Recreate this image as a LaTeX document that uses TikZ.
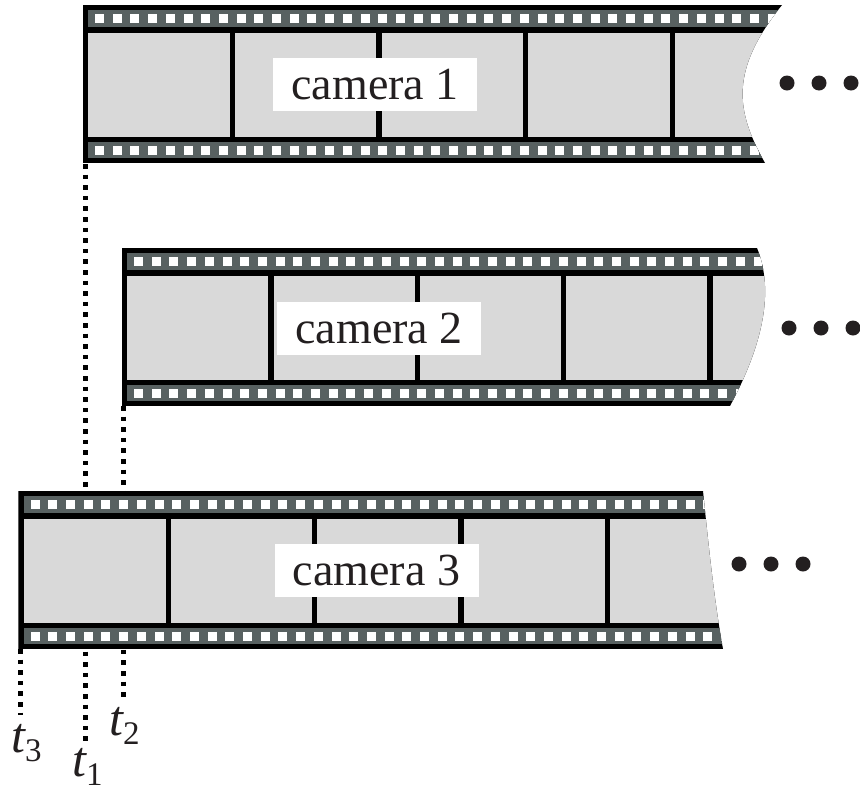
\documentclass[tikz,border=0pt]{standalone}
\usepackage{fontspec}
\setmainfont{Liberation Serif}
\definecolor{stripgray}{RGB}{88,97,97}
\definecolor{framegray}{RGB}{217,217,217}
\definecolor{ink}{RGB}{35,31,32}

% #1 left x, #2 top y, #3 right cut (top-right to bottom-right), #4 frame dividers
\newcommand{\drawfilm}[4]{%
  \begin{scope}
    \clip (#1,#2) -- #3 -- (#1,#2+158) -- cycle;
    \fill[black] (#1,#2) rectangle (860,#2+158);
    \fill[stripgray] (#1+5.5,#2+5) rectangle (860,#2+22);
    \fill[stripgray] (#1+5.5,#2+137) rectangle (860,#2+153);
    \fill[framegray] (#1+5.5,#2+28) rectangle (860,#2+132);
    \foreach \d in {#4} {\fill[black] (\d-2.7,#2+28) rectangle (\d+2.7,#2+132);}
    \foreach \k in {0,...,42} {
      \fill[white] (#1+12.3+17.7*\k,#2+8.8) rectangle +(9,9);
      \fill[white] (#1+12.3+17.7*\k,#2+140.8) rectangle +(9,9);
    }
  \end{scope}}

\tikzset{
  camlabel/.style={fill=white, inner sep=0pt, minimum width=204pt, minimum height=53pt,
    text=ink, font=\fontsize{46}{46}\selectfont},
  more/.style={circle, fill=ink, inner sep=0pt, minimum size=15pt},
  timeline/.style={line width=5pt, dash pattern=on 4.6pt off 6pt, black},
  tlabel/.style={anchor=base west, inner sep=0pt, text=ink, font=\fontsize{50}{50}\selectfont\itshape},
}

\newcommand{\tsub}[1]{\raisebox{-9pt}{\upshape\fontsize{33}{33}\selectfont #1}}

\begin{document}
\begin{tikzpicture}[x=1pt, y=-1pt]
  \useasboundingbox (0,0) rectangle (860,793);

  % time marks, running behind the third strip
  \coordinate (c1top) at (85,164);
  \coordinate (c1end) at (85,745);
  \coordinate (c2top) at (123.5,406);
  \coordinate (c2end) at (123.5,701);
  \coordinate (c3top) at (20.6,649);
  \coordinate (c3end) at (20.6,715);
  \draw[timeline] (c1top) -- (c1end);
  \draw[timeline] (c2top) -- (c2end);
  \draw[timeline] (c3top) -- (c3end);

  % film strips
  \drawfilm{82.7}{5}{(782,5) .. controls (730,70) and (735,110) .. (765,163)}{232.5,379.1,525.7,672.3}
  \drawfilm{121.7}{248}{(757,248) .. controls (772,285) and (768,335) .. (730,406)}{270.8,417.2,563.6,710}
  \drawfilm{18.3}{491}{(703,491) .. controls (708,540) and (714,600) .. (723,649)}{168.3,314.7,461.1,607.5}

  % camera names
  \node[camlabel] (cam1) at (375,84.5) {camera 1};
  \node[camlabel] (cam2) at (379,328.5) {camera 2};
  \node[camlabel] (cam3) at (376.5,570.5) {camera 3};

  % continuation dots
  \node[more] (m11) at (787,83) {};
  \node[more] (m12) at (819,83) {};
  \node[more] (m13) at (851,83) {};
  \node[more] (m21) at (789,328) {};
  \node[more] (m22) at (821,328) {};
  \node[more] (m23) at (853,328) {};
  \node[more] (m31) at (739,564) {};
  \node[more] (m32) at (771,564) {};
  \node[more] (m33) at (803,564) {};

  % time labels
  \node[tlabel] (t3) at (11,752) {t\tsub{3}};
  \node[tlabel] (t1) at (72,776) {t\tsub{1}};
  \node[tlabel] (t2) at (109,735) {t\tsub{2}};
\end{tikzpicture}
\end{document}
